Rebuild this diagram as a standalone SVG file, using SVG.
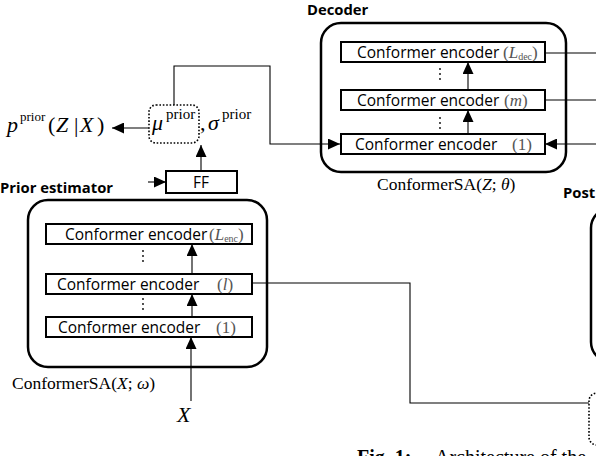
<svg xmlns="http://www.w3.org/2000/svg" width="596" height="456" viewBox="0 0 596 456">
<style>
.frame{fill:none;stroke:#000;stroke-width:2.5}
.blk{fill:#fff;stroke:#000;stroke-width:2}
.dot{fill:none;stroke:#000;stroke-width:1.6;stroke-dasharray:1.6 1.8}
.ln{fill:none;stroke:#000;stroke-width:1.1}
.ar{marker-end:url(#ah)}
.enc{font-family:"Open Sans","Noto Sans",sans-serif;font-size:15.5px;fill:#000}
.ttl{font-family:"Open Sans","Noto Sans",sans-serif;font-size:14.8px;font-weight:bold;fill:#000}
.math{font-family:"Liberation Serif",serif;fill:#000}
.idx{font-family:"Liberation Serif",serif;font-size:17px;fill:#555}
.it{font-style:italic}
</style>
<defs>
<marker id="ah" markerWidth="12" markerHeight="11" refX="12" refY="5.5" orient="auto" markerUnits="userSpaceOnUse"><path d="M0,0 L12,5.5 L0,11 z" fill="#000"/></marker>
</defs>
<rect width="596" height="456" fill="#fff"/>

<g id="connectors">
<path class="ln ar" d="M174,105 V66 H270 V144 H340"/>
<path class="ln ar" d="M149,128 H112"/>
<path class="ln ar" d="M201,170 V145"/>
<path class="ln ar" d="M148,182 H166"/>
<path class="ln ar" d="M468,134 V110"/>
<path class="ln ar" d="M468,90 V62"/>
<path class="ln ar" d="M192,317 V294"/>
<path class="ln ar" d="M192,274 V244"/>
<path class="ln ar" d="M191,401 V337"/>
<path class="ln" d="M252,283 H410 V403 H589"/>
<path class="ln" d="M545,53 H596"/>
<path class="ln" d="M545,100 H596"/>
<path class="ln ar" d="M596,144 H545"/>
</g>

<g id="decoder">
<text class="ttl" x="307" y="15">Decoder</text>
<rect class="frame" x="321" y="23" width="245" height="149" rx="20"/>
<g id="dec-top">
<rect class="blk" x="341" y="42" width="204" height="20"/>
<text class="enc" x="357" y="57.5">Conformer encoder</text>
<text class="idx" x="503" y="57.5">(<tspan class="it">L</tspan><tspan font-size="10" dy="2">dec</tspan><tspan dy="-2">)</tspan></text>
</g>
<g id="dec-mid">
<rect class="blk" x="341" y="90" width="204" height="20"/>
<text class="enc" x="357" y="105.5">Conformer encoder</text>
<text class="idx" x="504" y="105.5">(<tspan class="it">m</tspan>)</text>
</g>
<g id="dec-bot">
<rect class="blk" x="341" y="134" width="204" height="20"/>
<text class="enc" x="355" y="149.5">Conformer encoder</text>
<text class="idx" x="512" y="149.5">(1)</text>
</g>
<g fill="#000">
<circle cx="440" cy="69" r="0.9"/><circle cx="440" cy="74" r="0.9"/><circle cx="440" cy="79" r="0.9"/>
<circle cx="440" cy="118" r="0.9"/><circle cx="440" cy="123" r="0.9"/><circle cx="440" cy="128" r="0.9"/>
</g>
<text class="math" x="377" y="190" font-size="17.5">ConformerSA(<tspan class="it">Z</tspan>; <tspan class="it">θ</tspan>)</text>
</g>

<g id="prior-estimator">
<text class="ttl" x="0" y="193">Prior estimator</text>
<rect class="frame" x="28" y="200" width="239" height="167" rx="20"/>
<g id="enc-top">
<rect class="blk" x="46" y="224" width="206" height="20"/>
<text class="enc" x="65" y="239.5">Conformer encoder</text>
<text class="idx" x="209" y="239.5">(<tspan class="it">L</tspan><tspan font-size="10" dy="2">enc</tspan><tspan dy="-2">)</tspan></text>
</g>
<g id="enc-mid">
<rect class="blk" x="46" y="274" width="206" height="20"/>
<text class="enc" x="57" y="289.5">Conformer encoder</text>
<text class="idx" x="217" y="289.5">(<tspan class="it">l</tspan>)</text>
</g>
<g id="enc-bot">
<rect class="blk" x="46" y="317" width="206" height="20"/>
<text class="enc" x="58" y="332.5">Conformer encoder</text>
<text class="idx" x="216" y="332.5">(1)</text>
</g>
<g fill="#000">
<circle cx="143" cy="251" r="0.9"/><circle cx="143" cy="256" r="0.9"/><circle cx="143" cy="261" r="0.9"/>
<circle cx="143" cy="299" r="0.9"/><circle cx="143" cy="304" r="0.9"/><circle cx="143" cy="309" r="0.9"/>
</g>
<text class="math" x="12" y="389" font-size="17.5">ConformerSA(<tspan class="it">X</tspan>; <tspan class="it">ω</tspan>)</text>
</g>

<g id="ff">
<rect class="blk" x="166" y="171" width="71" height="22"/>
<text class="enc" x="201" y="187.5" text-anchor="middle">FF</text>
</g>

<g id="prior-params">
<rect class="dot" x="149" y="105" width="50" height="38" rx="7"/>
<text class="math" font-size="22"><tspan class="it" x="152" y="130">μ</tspan><tspan font-size="15" x="166" y="119">prior</tspan><tspan x="200" y="130">,</tspan><tspan class="it" x="208" y="130">σ</tspan><tspan font-size="15" x="222" y="119">prior</tspan></text>
</g>

<g id="prior-dist">
<text class="math" font-size="22"><tspan class="it" x="7" y="132">p</tspan><tspan font-size="13" x="20" y="121">prior</tspan><tspan x="48" y="132">(</tspan><tspan class="it" x="56" y="132">Z</tspan><tspan x="74" y="132">|</tspan><tspan class="it" x="80" y="132">X</tspan><tspan x="97" y="132">)</tspan></text>
</g>

<g id="input-x">
<text class="math it" x="177" y="422" font-size="22">X</text>
</g>

<g id="posterior">
<text class="ttl" x="563" y="198">Post</text>
<rect class="frame" x="591" y="208" width="60" height="154" rx="20"/>
<rect class="dot" x="589" y="393" width="40" height="52" rx="8"/>
</g>

<text class="math" font-size="20" y="464"><tspan x="357" font-weight="bold">Fig. 1:</tspan><tspan x="435">Architecture of the</tspan></text>
</svg>
